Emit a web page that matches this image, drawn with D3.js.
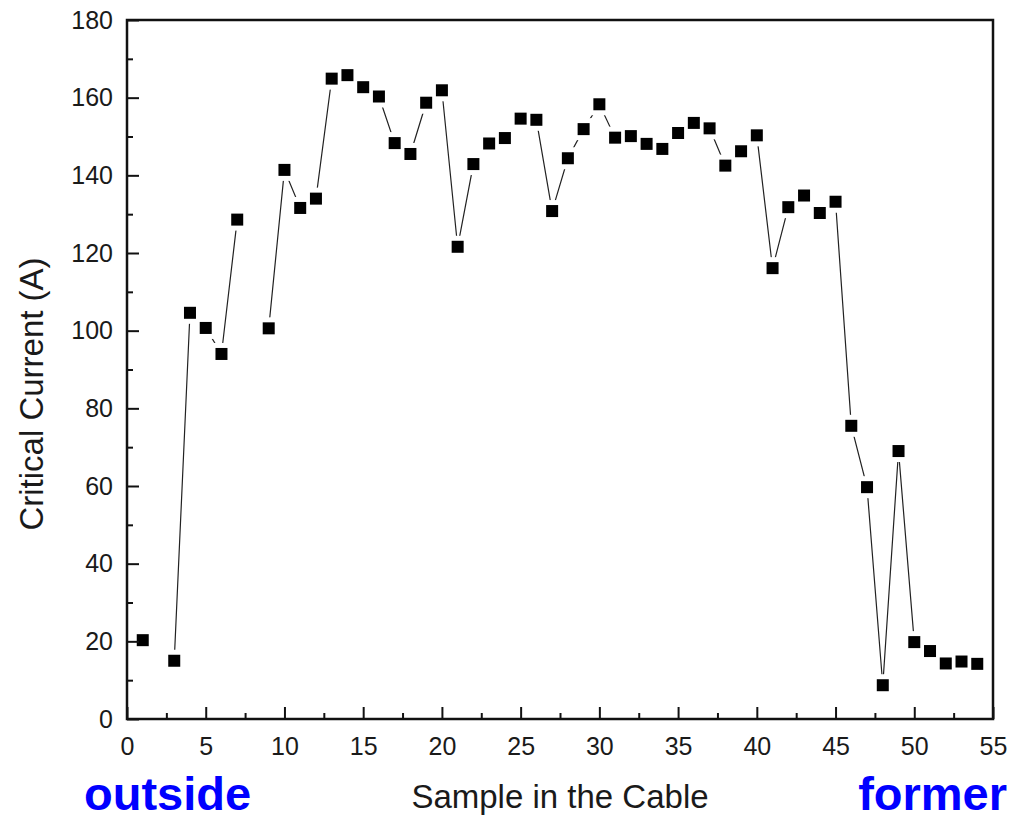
<!DOCTYPE html>
<html>
<head>
<meta charset="utf-8">
<script src="https://cdn.jsdelivr.net/npm/d3@7/dist/d3.min.js"></script>
<style>
  html, body { margin: 0; padding: 0; background: #fff; }
  svg { display: block; }
  text { font-family: "Liberation Sans", Arial, Helvetica, sans-serif; }
</style>
</head>
<body>
<svg id="chart" width="1015" height="822"></svg>
<script>
// ---- data (null = missing sample, line breaks there) ----
const samples = [1,2,3,4,5,6,7,8,9,10,11,12,13,14,15,16,17,18,19,20,21,22,23,24,25,26,27,28,29,30,31,32,33,34,35,36,37,38,39,40,41,42,43,44,45,46,47,48,49,50,51,52,53,54];
const criticalCurrent = [20.3, null, 15.0, 104.6, 100.7, 94.0, 128.6, null, 100.6, 141.4,
  131.6, 134.0, 164.9, 165.8, 162.7, 160.3, 148.3, 145.5, 158.7, 161.9,
  121.6, 142.9, 148.2, 149.6, 154.6, 154.3, 130.8, 144.4, 151.9, 158.3,
  149.7, 150.1, 148.1, 146.8, 150.9, 153.5, 152.1, 142.5, 146.2, 150.3,
  116.1, 131.8, 134.8, 130.3, 133.2, 75.5, 59.7, 8.7, 69.0, 19.8,
  17.5, 14.3, 14.8, 14.2];
const xTicks = [0,5,10,15,20,25,30,35,40,45,50,55];
const xMinorTicks = [2.5,7.5,12.5,17.5,22.5,27.5,32.5,37.5,42.5,47.5,52.5];
const yTicks = [0,20,40,60,80,100,120,140,160,180];
const yMinorTicks = [10,30,50,70,90,110,130,150,170];
const xTitle = "Sample in the Cable";
const yTitle = "Critical Current (A)";
const leftNote = "outside";
const rightNote = "former";

const data = samples.map((s, i) => ({x: s, y: criticalCurrent[i]}));

const svg = d3.select("#chart");
const L = 127, R = 993, T = 20, B = 719;
const x = d3.scaleLinear().domain([0, 55]).range([L, R]);
const y = d3.scaleLinear().domain([0, 180]).range([B, T]);

// connecting line
const line = d3.line()
  .defined(d => d.y !== null)
  .x(d => x(d.x)).y(d => y(d.y));
svg.append("path")
  .datum(data)
  .attr("d", line)
  .attr("fill", "none")
  .attr("stroke", "#222")
  .attr("stroke-width", 1.2);

const pts = data.filter(d => d.y !== null);
const ms = 12, gap = 5;
// white halos (gap between line and symbols)
svg.append("g").selectAll("rect").data(pts).join("rect")
  .attr("x", d => x(d.x) - ms/2 - gap)
  .attr("y", d => y(d.y) - ms/2 - gap)
  .attr("width", ms + 2*gap).attr("height", ms + 2*gap)
  .attr("fill", "#fff");
// markers
svg.append("g").selectAll("rect").data(pts).join("rect")
  .attr("x", d => x(d.x) - ms/2)
  .attr("y", d => y(d.y) - ms/2)
  .attr("width", ms).attr("height", ms)
  .attr("fill", "#000");

// axes
const axFont = 25;
const xAxis = svg.append("g").attr("transform", `translate(0,${B})`)
  .call(d3.axisBottom(x).tickValues(xTicks).tickSizeInner(-12).tickSizeOuter(0).tickPadding(18).tickFormat(d3.format("d")));
const xMinor = svg.append("g").attr("transform", `translate(0,${B})`)
  .call(d3.axisBottom(x).tickValues(xMinorTicks).tickSizeInner(-6).tickSizeOuter(0).tickFormat(""));
const yAxis = svg.append("g").attr("transform", `translate(${L},0)`)
  .call(d3.axisLeft(y).tickValues(yTicks).tickSizeInner(-12).tickSizeOuter(0).tickPadding(14).tickFormat(d3.format("d")));
const yMinor = svg.append("g").attr("transform", `translate(${L},0)`)
  .call(d3.axisLeft(y).tickValues(yMinorTicks).tickSizeInner(-6).tickSizeOuter(0).tickFormat(""));
[xAxis, xMinor, yAxis, yMinor].forEach(g => {
  g.select(".domain").remove();
  g.selectAll("line").attr("stroke", "#111").attr("stroke-width", 2);
  g.selectAll("text").attr("font-size", axFont).attr("fill", "#1a1a1a")
    .attr("font-family", "'Liberation Sans', Arial, sans-serif");
});

// frame
svg.append("rect")
  .attr("x", L).attr("y", T).attr("width", R - L).attr("height", B - T)
  .attr("fill", "none").attr("stroke", "#111").attr("stroke-width", 2.5);

// titles
svg.append("text")
  .attr("x", (L + R) / 2).attr("y", 808)
  .attr("text-anchor", "middle").attr("font-size", 33).attr("fill", "#1a1a1a")
  .text(xTitle);
svg.append("text")
  .attr("transform", "translate(43,394) rotate(-90)")
  .attr("text-anchor", "middle").attr("font-size", 33).attr("fill", "#1a1a1a")
  .text(yTitle);

// blue annotations
svg.append("text")
  .attr("x", 84).attr("y", 810)
  .attr("font-size", 47).attr("font-weight", "bold").attr("fill", "#0000ff")
  .text(leftNote);
svg.append("text")
  .attr("x", 1007).attr("y", 810).attr("text-anchor", "end")
  .attr("font-size", 47).attr("font-weight", "bold").attr("fill", "#0000ff")
  .text(rightNote);
</script>
</body>
</html>
